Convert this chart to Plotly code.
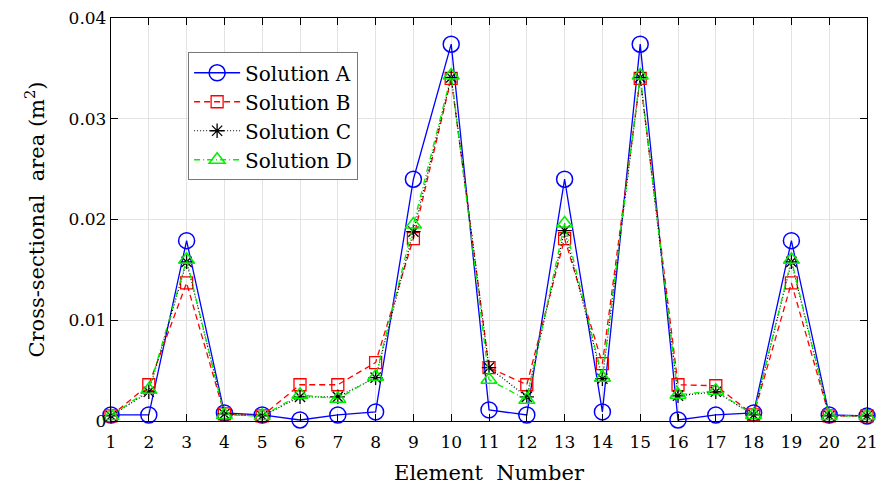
import plotly.graph_objects as go

elements = list(range(1, 22))

solution_a = [0.0006, 0.0006, 0.0179, 0.0008, 0.0006, 0.0001, 0.0006, 0.0009, 0.0240, 0.0374,
              0.0011, 0.0006, 0.0240, 0.0009, 0.0374, 0.0001, 0.0006, 0.0008, 0.0179, 0.0006, 0.0005]
solution_b = [0.0005, 0.0036, 0.0137, 0.0007, 0.0005, 0.0036, 0.0036, 0.0058, 0.0181, 0.0340,
              0.0053, 0.0036, 0.0181, 0.0057, 0.0340, 0.0036, 0.0035, 0.0006, 0.0137, 0.0005, 0.0005]
solution_c = [0.0005, 0.0029, 0.0158, 0.0007, 0.0005, 0.0024, 0.0024, 0.0043, 0.0188, 0.0341,
              0.0053, 0.0024, 0.0189, 0.0042, 0.0341, 0.0025, 0.0029, 0.0006, 0.0158, 0.0005, 0.0005]
solution_d = [0.0005, 0.0031, 0.0160, 0.0006, 0.0005, 0.0026, 0.0022, 0.0044, 0.0195, 0.0343,
              0.0041, 0.0021, 0.0196, 0.0043, 0.0343, 0.0026, 0.0030, 0.0006, 0.0160, 0.0005, 0.0005]

y_ticks = [0, 0.01, 0.02, 0.03, 0.04]
y_tick_labels = ["0", "0.01", "0.02", "0.03", "0.04"]

FONT = "DejaVu Serif"

fig = go.Figure()
fig.add_trace(go.Scatter(
    x=elements, y=solution_a, name="Solution A", mode="lines+markers", legendgroup="a",
    line=dict(color="#0000ff", width=1.3, dash="solid"),
    marker=dict(symbol="circle-open", size=16, color="#0000ff", line=dict(width=1.5)),
    cliponaxis=False))
fig.add_trace(go.Scatter(
    x=elements, y=solution_b, name="Solution B", mode="lines+markers", legendgroup="b",
    line=dict(color="#ff0000", width=1.3, dash="6px,4px"),
    marker=dict(symbol="square-open", size=12, color="#ff0000", line=dict(width=1.3)),
    cliponaxis=False))
fig.add_trace(go.Scatter(
    x=elements, y=solution_c, name="Solution C", mode="lines+markers", legendgroup="c",
    line=dict(color="#000000", width=1.2, dash="1px,2px"),
    marker=dict(symbol="asterisk-open", size=12, color="#000000", line=dict(width=1.3)),
    cliponaxis=False))
fig.add_trace(go.Scatter(
    x=elements, y=solution_d, name="Solution D", mode="lines+markers", legendgroup="d",
    line=dict(color="#00ee00", width=1.3, dash="6px,3px,1px,3px"),
    marker=dict(symbol="triangle-up-open", size=14, color="#00ee00", line=dict(width=1.5)),
    cliponaxis=False))

fig.update_layout(
    width=886, height=488,
    margin=dict(l=111, r=8, t=16, b=67),
    paper_bgcolor="white", plot_bgcolor="white",
    font=dict(family=FONT, size=16, color="black"),
    showlegend=True,
    legend=dict(
        x=0.102, y=0.915, xanchor="left", yanchor="top",
        bgcolor="white", bordercolor="#777777", borderwidth=1,
        font=dict(family=FONT, size=20),
        tracegroupgap=2, itemwidth=46, traceorder="normal",
    ),
)

fig.update_xaxes(
    range=[1, 21], tickmode="array", tickvals=elements,
    ticks="inside", ticklen=7, tickcolor="black", tickwidth=1,
    showline=True, linecolor="black", linewidth=1.3, mirror="ticks",
    showgrid=True, gridcolor="#e3e3e3", gridwidth=1, zeroline=False,
    ticklabeloverflow="allow", ticklabelstandoff=5,
    tickfont=dict(family=FONT, size=17),
    title=dict(text="Element  Number", font=dict(family=FONT, size=21), standoff=14),
)
fig.update_yaxes(
    range=[0, 0.04], tickmode="array", tickvals=y_ticks, ticktext=y_tick_labels,
    ticks="inside", ticklen=7, tickcolor="black", tickwidth=1,
    showline=True, linecolor="black", linewidth=1.3, mirror="ticks",
    showgrid=True, gridcolor="#e3e3e3", gridwidth=1, zeroline=False,
    tickfont=dict(family=FONT, size=17),
    title=dict(text="Cross-sectional  area (m<sup>2</sup>)", font=dict(family=FONT, size=21), standoff=18),
)

fig.write_html("out.html")
